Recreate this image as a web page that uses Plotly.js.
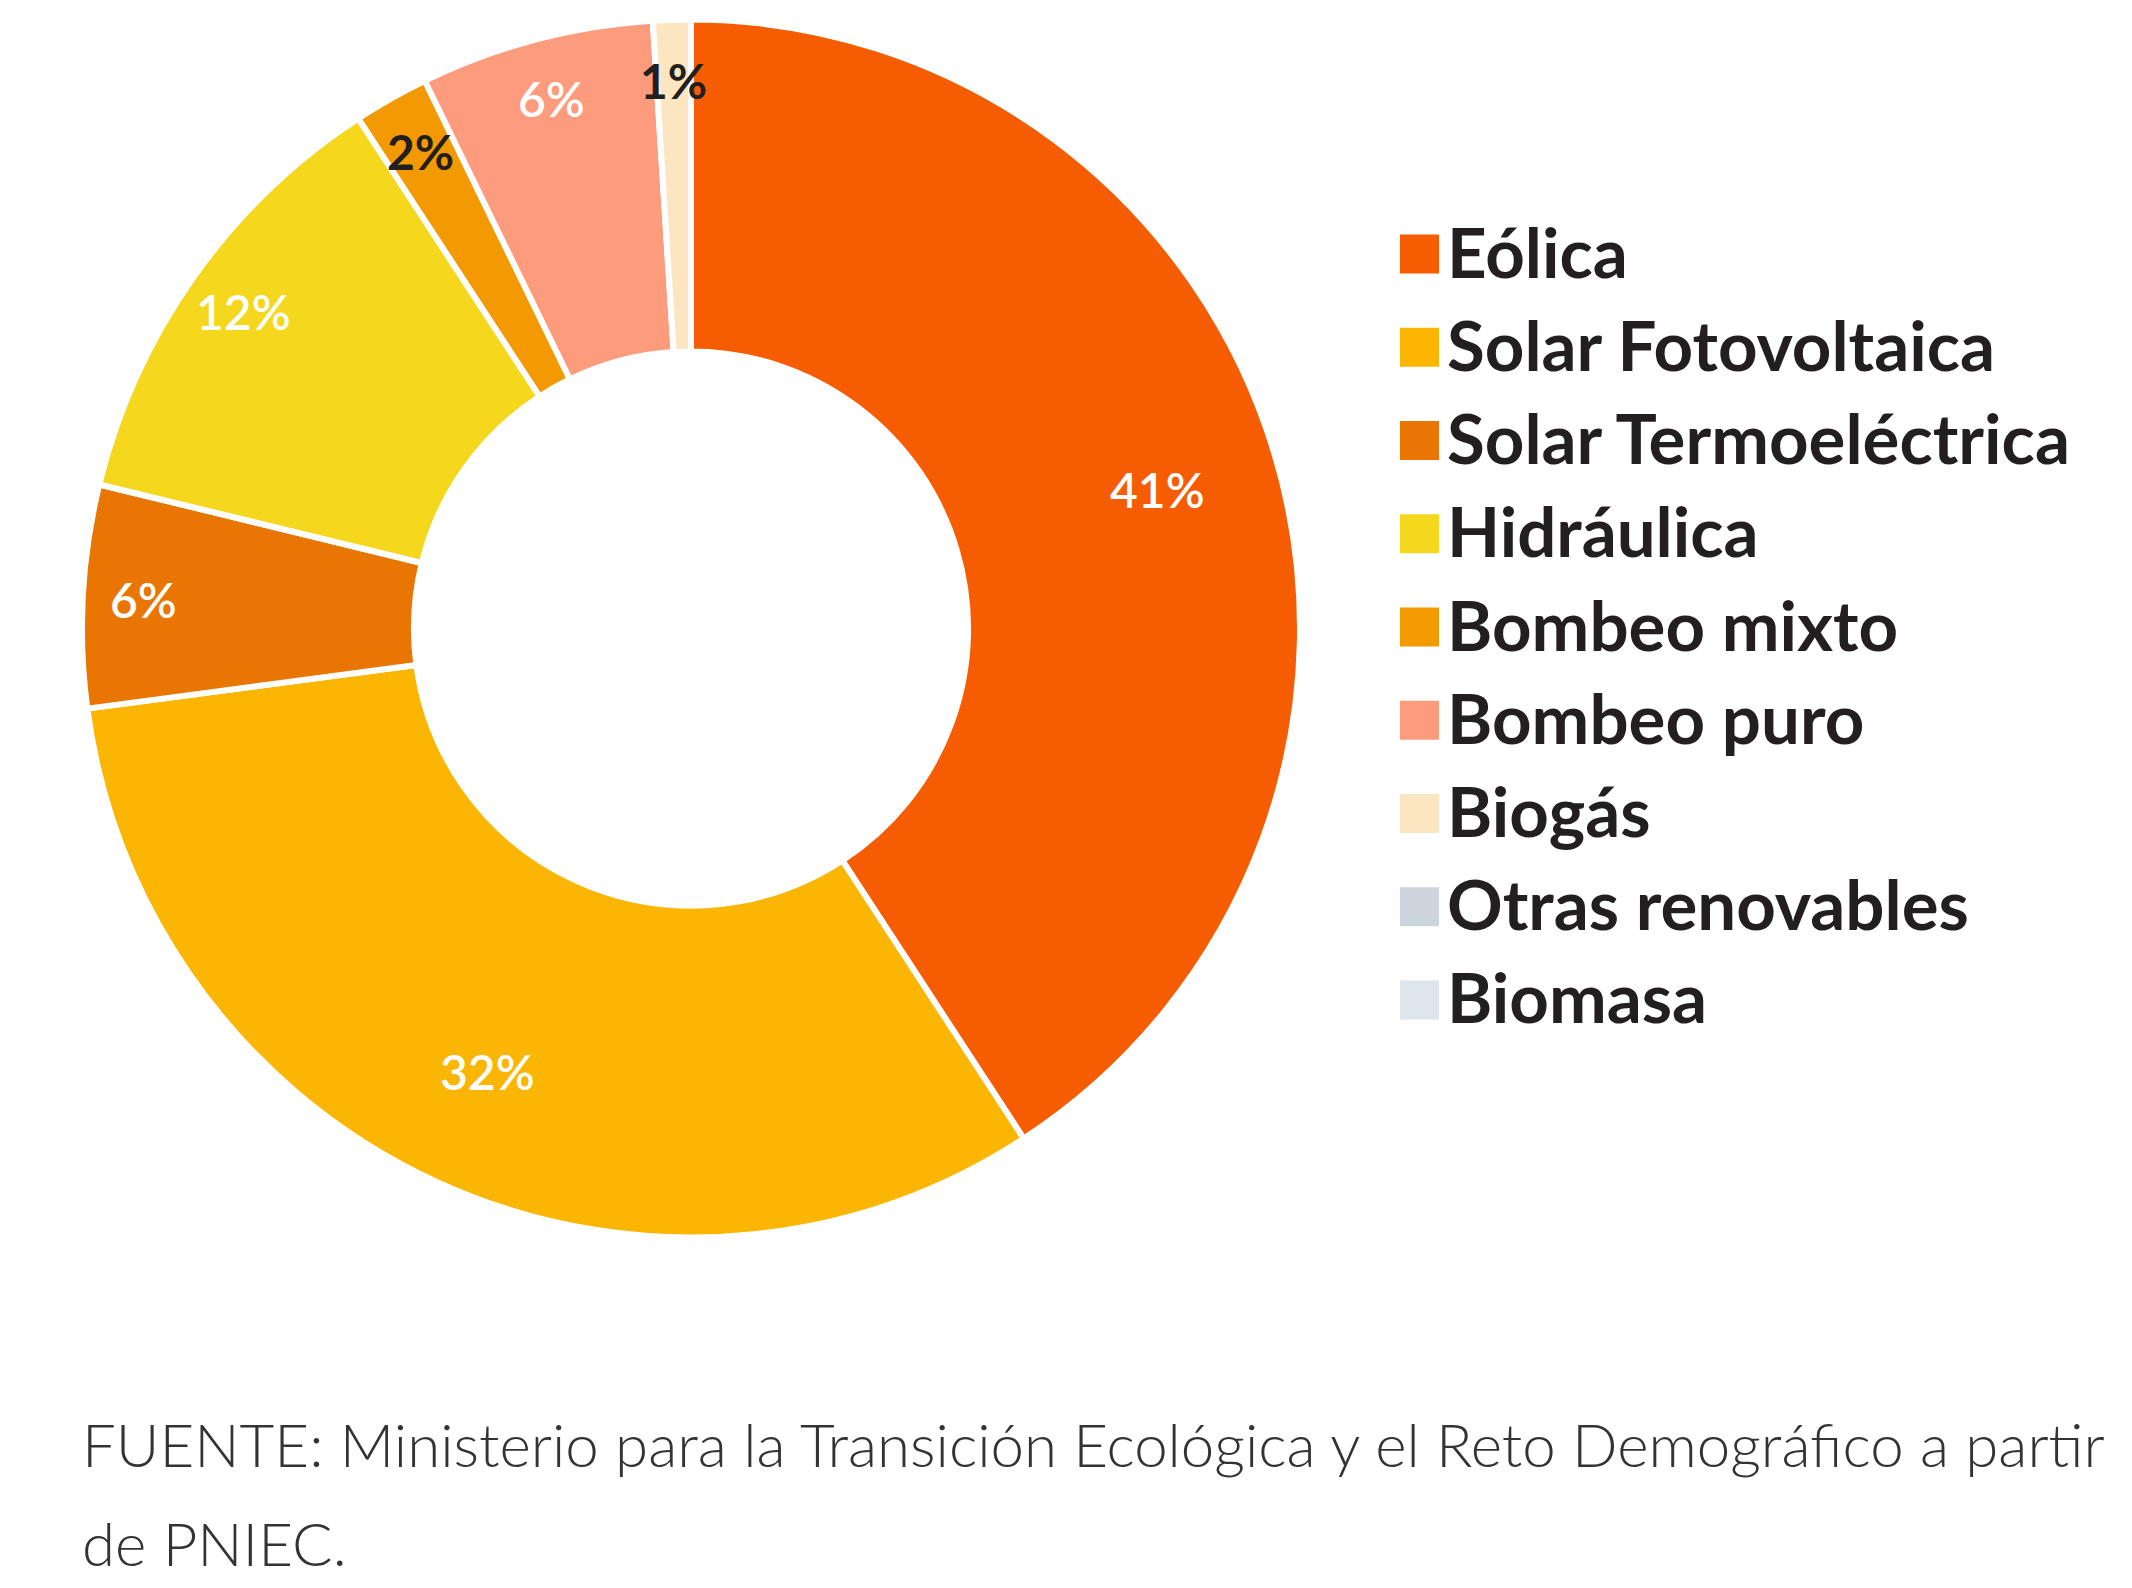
<!DOCTYPE html>
<html>
<head>
<meta charset="utf-8">
<script src="https://cdn.plot.ly/plotly-3.0.1.min.js"></script>
<style>html,body{margin:0;padding:0;background:#fff;}#chart{width:2132px;height:1588px;}</style>
</head>
<body>
<div id="chart"></div>
<script>
// ---- data ----
const labels = ["Eólica", "Solar Fotovoltaica", "Solar Termoeléctrica", "Hidráulica",
                "Bombeo mixto", "Bombeo puro", "Biogás", "Otras renovables", "Biomasa"];
const values = [40.8, 32.1, 5.9, 12.0, 2.0, 6.2, 1.0, 0, 0];
const colors = ["#F65C02", "#FBB604", "#E97602", "#F5D71D", "#F39A02", "#FD9C7C", "#FCE5C1", "#CCD5DD", "#DEE5ED"];
const labelColors = ["#ffffff", "#ffffff", "#ffffff", "#ffffff", "#231f20", "#ffffff", "#231f20", "#ffffff", "#ffffff"];
const sourceLines = ["FUENTE: Ministerio para la Transición Ecológica y el Reto Demográfico a partir", "de PNIEC."];

// ---- layout ----
const W = 2132, H = 1588;
const dom = {x: [82 / W, 1300 / W], y: [1 - 1238 / H, 1 - 19 / H]};
const cxPx = (dom.x[0] + dom.x[1]) / 2 * W;
const cyPx = (1 - (dom.y[0] + dom.y[1]) / 2) * H;
const R = Math.min((dom.x[1] - dom.x[0]) * W, (dom.y[1] - dom.y[0]) * H) / 2;

const total = values.reduce((a, b) => a + b, 0);
const annotations = [];
const shapes = [];
let cum = 0;
values.forEach((v, i) => {
  const frac = v / total;
  const mid = (cum + frac / 2) * 2 * Math.PI;
  cum += frac;
  if (v <= 0) return;
  const rr = R * (frac > 0.25 ? 0.80 : 0.90);
  const xp = cxPx + rr * Math.sin(mid);
  const yp = cyPx - rr * Math.cos(mid);
  annotations.push({
    xref: "paper", yref: "paper", x: xp / W, y: 1 - yp / H,
    xanchor: "center", yanchor: "middle", showarrow: false,
    text: Math.round(frac * 100) + "%",
    font: {family: "Lato, sans-serif", size: 48, color: labelColors[i],
           weight: labelColors[i] === "#ffffff" ? 600 : 700}
  });
});

// custom legend with large swatches
const legX0 = 1400, legSw = 39, legY0 = 254, legStep = 93.25;
labels.forEach((lab, i) => {
  const yc = legY0 + i * legStep;
  shapes.push({
    type: "rect", xref: "paper", yref: "paper",
    x0: legX0 / W, x1: (legX0 + legSw) / W,
    y0: 1 - (yc + legSw / 2) / H, y1: 1 - (yc - legSw / 2) / H,
    fillcolor: colors[i], line: {width: 0}
  });
  annotations.push({
    xref: "paper", yref: "paper", x: (legX0 + legSw + 6) / W, y: 1 - (yc - 3) / H,
    xanchor: "left", yanchor: "middle", showarrow: false, text: lab,
    font: {family: "Lato, sans-serif", size: 69, color: "#231f20", weight: 700}
  });
});

// source note
sourceLines.forEach((t, i) => {
  annotations.push({
    xref: "paper", yref: "paper", x: 80 / W, y: 1 - (1444 + i * 99) / H,
    xanchor: "left", yanchor: "middle", showarrow: false, text: t,
    font: {family: "Lato, sans-serif", size: 60, color: "#333333", weight: 300}
  });
});

const trace = {
  type: "pie",
  labels: labels,
  values: values,
  marker: {colors: colors, line: {color: "#ffffff", width: 6}},
  hole: 0.455,
  sort: false,
  direction: "clockwise",
  rotation: 0,
  textinfo: "none",
  hoverinfo: "label+percent",
  domain: dom,
  showlegend: false
};

const layout = {
  width: W, height: H,
  margin: {l: 0, r: 0, t: 0, b: 0},
  paper_bgcolor: "#ffffff",
  plot_bgcolor: "#ffffff",
  showlegend: false,
  annotations: annotations,
  shapes: shapes
};

Plotly.newPlot("chart", [trace], layout, {displayModeBar: false, staticPlot: true});
</script>
</body>
</html>
